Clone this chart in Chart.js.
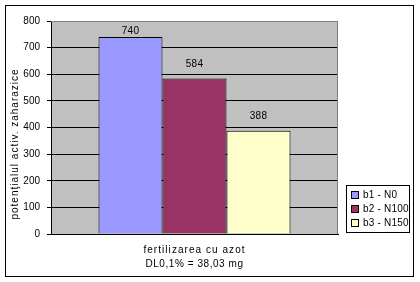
<!DOCTYPE html>
<html>
<head>
<meta charset="utf-8">
<script src="https://cdn.jsdelivr.net/npm/chart.js@4/dist/chart.umd.min.js"></script>
<style>
html,body{margin:0;padding:0;background:#fff;}
#wrap{width:420px;height:282px;position:relative;}
</style>
</head>
<body>
<div id="wrap"><canvas id="c" width="420" height="282"></canvas></div>
<script>
const categories = ['fertilizarea cu azot'];
const seriesLabels = ['b1 - N0', 'b2 - N100', 'b3 - N150'];
const seriesValues = [[740], [584], [388]];
const seriesColors = ['#9999FF', '#993366', '#FFFFCC'];
const yTicks = [0, 100, 200, 300, 400, 500, 600, 700, 800];
const yTitle = 'potenţialul activ. zaharazice';
const xTitleLines = ['fertilizarea cu azot', 'DL0,1% = 38,03 mg'];

const FONT = '"Liberation Sans", Arial, sans-serif';

function spacedText(ctx, text, x, y, spacing) {
  ctx.letterSpacing = spacing + 'px';
  ctx.fillText(text, x, y);
  ctx.letterSpacing = '0px';
}

const decor = {
  id: 'decor',
  beforeDraw(chart) {
    const {ctx, chartArea: a} = chart;
    ctx.save();
    ctx.fillStyle = '#C0C0C0';
    ctx.fillRect(a.left, a.top, a.right - a.left, a.bottom - a.top);
    ctx.restore();
  },
  afterDatasetsDraw(chart) {
    const {ctx, chartArea: a} = chart;
    ctx.save();
    // top & right plot border
    ctx.strokeStyle = '#808080';
    ctx.lineWidth = 1;
    ctx.beginPath();
    ctx.moveTo(a.left, a.top + 0.5);
    ctx.lineTo(a.right - 0.5, a.top + 0.5);
    ctx.lineTo(a.right - 0.5, a.bottom);
    ctx.stroke();
    // data labels
    ctx.fillStyle = '#000';
    ctx.font = '10px ' + FONT;
    ctx.textAlign = 'center';
    ctx.textBaseline = 'middle';
    chart.data.datasets.forEach((ds, i) => {
      const el = chart.getDatasetMeta(i).data[0];
      let y = Math.max(el.y - 14, a.top + 10);
      spacedText(ctx, String(ds.data[0]), el.x, y, 0.3);
    });
    ctx.restore();
  },
  afterDraw(chart) {
    const {ctx} = chart;
    ctx.save();
    // outer border
    ctx.strokeStyle = '#000';
    ctx.lineWidth = 1;
    ctx.strokeRect(5.5, 5.5, 408, 271);
    // y title
    ctx.fillStyle = '#000';
    ctx.font = '10px ' + FONT;
    ctx.textAlign = 'center';
    ctx.textBaseline = 'middle';
    ctx.save();
    ctx.translate(15, 144);
    ctx.rotate(-Math.PI / 2);
    spacedText(ctx, yTitle, 0, 0, 1);
    ctx.restore();
    // x title
    const cx = (chart.chartArea.left + chart.chartArea.right) / 2;
    spacedText(ctx, xTitleLines[0], cx, 250, 1.05);
    spacedText(ctx, xTitleLines[1], cx, 264, 0.55);
    // legend
    const lx = 346.5, ly = 185.5, lw = 63, lh = 47;
    ctx.fillStyle = '#fff';
    ctx.fillRect(lx, ly, lw, lh);
    ctx.strokeStyle = '#000';
    ctx.strokeRect(lx, ly, lw, lh);
    ctx.textAlign = 'left';
    chart.data.datasets.forEach((ds, i) => {
      const yy = 194.5 + i * 14.2;
      ctx.fillStyle = ds.backgroundColor;
      ctx.fillRect(352, Math.round(yy) - 3, 6, 6);
      ctx.strokeStyle = '#000';
      ctx.strokeRect(351.5, Math.round(yy) - 3.5, 7, 7);
      ctx.fillStyle = '#000';
      spacedText(ctx, ds.label, 363, yy + 0.5, 0.2);
    });
    ctx.restore();
  }
};

new Chart(document.getElementById('c'), {
  type: 'bar',
  data: {
    labels: categories,
    datasets: seriesLabels.map((lab, i) => ({
      label: lab,
      data: seriesValues[i],
      backgroundColor: seriesColors[i],
      borderColor: '#000',
      borderWidth: 1,
      borderSkipped: 'bottom',
      categoryPercentage: 0.669,
      barPercentage: 1
    }))
  },
  options: {
    responsive: false,
    animation: false,
    devicePixelRatio: 1,
    layout: {padding: {top: 21, right: 82, left: 0, bottom: 0}},
    plugins: {legend: {display: false}, tooltip: {enabled: false}, title: {display: false}},
    scales: {
      x: {
        grid: {display: false},
        border: {display: true, color: '#000', width: 1},
        ticks: {display: false},
        afterFit(s) { s.height = 48; }
      },
      y: {
        min: 0, max: 800,
        afterBuildTicks(s) { s.ticks = yTicks.map(v => ({value: v})); },
        grid: {
          color: c => (c.tick && c.tick.value === 800) ? '#808080' : '#000',
          tickColor: '#000',
          tickLength: 4,
          lineWidth: 1
        },
        border: {display: true, color: '#000', width: 1},
        ticks: {
          color: '#000',
          padding: 7,
          font: {family: FONT, size: 10}
        },
        afterFit(s) { s.width = 51; }
      }
    }
  },
  plugins: [decor]
});
</script>
</body>
</html>
